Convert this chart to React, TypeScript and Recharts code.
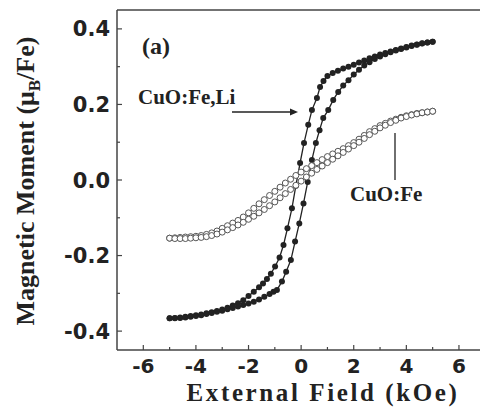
import { LineChart, Line, XAxis, YAxis, ReferenceLine, Customized } from 'recharts';

// CuO:Fe,Li  (filled dots) - descending branch, +5 -> -5 kOe
const liDescField = [
  5.0, 4.8, 4.6, 4.4, 4.2, 4.0, 3.8, 3.6, 3.4, 3.2, 3.0, 2.8, 2.6, 2.4, 2.2, 2.0, 1.8, 1.6, 1.4, 1.2,
  1.0, 0.85, 0.72, 0.6, 0.41, 0.27, 0.11, -0.04, -0.2, -0.35, -0.52, -0.67, -0.82, -0.99,
  -1.15, -1.3, -1.45, -1.6, -1.8, -2.0, -2.2, -2.4, -2.6, -2.8, -3.0, -3.2, -3.4, -3.6, -3.8, -4.0,
  -4.2, -4.4, -4.6, -4.8, -5.0,
];
const liDescMoment = [
  0.366, 0.364, 0.362, 0.359, 0.356, 0.352, 0.348, 0.344, 0.34, 0.336, 0.332, 0.327, 0.322, 0.316,
  0.311, 0.305, 0.3, 0.295, 0.289, 0.283, 0.275, 0.262, 0.246, 0.217, 0.185, 0.146, 0.098, 0.045,
  -0.015, -0.075, -0.128, -0.172, -0.205, -0.229, -0.248, -0.262, -0.274, -0.284, -0.296, -0.307,
  -0.318, -0.326, -0.332, -0.338, -0.343, -0.347, -0.35, -0.353, -0.356, -0.358, -0.36, -0.362,
  -0.364, -0.365, -0.366,
];

// CuO:Fe,Li - ascending branch, -5 -> +5 kOe
const liAscField = [
  -5.0, -4.8, -4.6, -4.4, -4.2, -4.0, -3.8, -3.6, -3.4, -3.2, -3.0, -2.8, -2.6, -2.4, -2.2, -2.0,
  -1.8, -1.6, -1.4, -1.2, -1.05, -0.92, -0.73, -0.57, -0.39, -0.23, -0.07, 0.09, 0.25, 0.41, 0.56,
  0.7, 0.84, 1.03, 1.22, 1.41, 1.6, 1.8, 2.0, 2.2, 2.4, 2.6, 2.8, 3.0, 3.2, 3.4, 3.6, 3.8, 4.0, 4.2,
  4.4, 4.6, 4.8, 5.0,
];
const liAscMoment = [
  -0.366, -0.366, -0.365, -0.364, -0.362, -0.36, -0.358, -0.355, -0.352, -0.349, -0.346, -0.342,
  -0.339, -0.335, -0.331, -0.327, -0.322, -0.316, -0.309, -0.302, -0.296, -0.291, -0.269, -0.243,
  -0.212, -0.163, -0.115, -0.062, -0.005, 0.053, 0.098, 0.132, 0.164, 0.185, 0.212, 0.233, 0.25,
  0.264, 0.279, 0.292, 0.303, 0.312, 0.32, 0.327, 0.333, 0.338, 0.343, 0.347, 0.351, 0.355, 0.358,
  0.361, 0.364, 0.366,
];

// CuO:Fe (open circles) - descending branch
const feDescField = [
  5.0, 4.8, 4.6, 4.4, 4.2, 4.0, 3.8, 3.6, 3.4, 3.2, 3.0, 2.8, 2.6, 2.4, 2.2, 2.0, 1.8, 1.6, 1.4, 1.2,
  1.0, 0.8, 0.6, 0.4, 0.2, 0.0, -0.2, -0.4, -0.6, -0.8, -1.0, -1.2, -1.4, -1.6, -1.8, -2.0, -2.2,
  -2.4, -2.6, -2.8, -3.0, -3.2, -3.4, -3.6, -3.8, -4.0, -4.2, -4.4, -4.6, -4.8, -5.0,
];
const feDescMoment = [
  0.182, 0.18, 0.178, 0.176, 0.173, 0.17, 0.166, 0.161, 0.156, 0.15, 0.144, 0.136, 0.128, 0.118,
  0.108, 0.099, 0.091, 0.083, 0.076, 0.069, 0.062, 0.054, 0.046, 0.038, 0.03, 0.021, 0.012, 0.002,
  -0.008, -0.019, -0.03, -0.041, -0.052, -0.063, -0.075, -0.087, -0.098, -0.107, -0.114, -0.121,
  -0.128, -0.135, -0.14, -0.144, -0.147, -0.149, -0.15, -0.151, -0.152, -0.153, -0.154,
];

// CuO:Fe - ascending branch
const feAscField = [
  -5.0, -4.8, -4.6, -4.4, -4.2, -4.0, -3.8, -3.6, -3.4, -3.2, -3.0, -2.8, -2.6, -2.4, -2.2, -2.0,
  -1.8, -1.6, -1.4, -1.2, -1.0, -0.8, -0.6, -0.4, -0.2, 0.0, 0.2, 0.4, 0.6, 0.8, 1.0, 1.2, 1.4, 1.6,
  1.8, 2.0, 2.2, 2.4, 2.6, 2.8, 3.0, 3.2, 3.4, 3.6, 3.8, 4.0, 4.2, 4.4, 4.6, 4.8, 5.0,
];
const feAscMoment = [
  -0.154, -0.155, -0.155, -0.155, -0.154, -0.153, -0.152, -0.15, -0.147, -0.143, -0.138, -0.132,
  -0.126, -0.119, -0.112, -0.104, -0.096, -0.087, -0.078, -0.068, -0.058, -0.047, -0.036, -0.025,
  -0.014, -0.003, 0.008, 0.018, 0.028, 0.037, 0.046, 0.055, 0.064, 0.073, 0.082, 0.091, 0.1, 0.11,
  0.12, 0.129, 0.138, 0.145, 0.152, 0.158, 0.164, 0.168, 0.172, 0.175, 0.178, 0.18, 0.182,
];

const xTicks = [-6, -5, -4, -3, -2, -1, 0, 1, 2, 3, 4, 5, 6];
const yTicks = [-0.4, -0.3, -0.2, -0.1, 0, 0.1, 0.2, 0.3, 0.4];

const zip = (field: number[], moment: number[]) => field.map((h, i) => ({ h, m: moment[i] }));

const liLoop = [...zip(liDescField, liDescMoment), ...zip(liAscField, liAscMoment)];
const feLoop = [...zip(feDescField, feDescMoment), ...zip(feAscField, feAscMoment)];

const TICK_FONT = '"DejaVu Sans", sans-serif';
const SERIF = '"Liberation Serif", "Times New Roman", serif';
const INK = '#222';
const FRAME = '#444';

const XTick = (props: any) => {
  const { x, y, payload } = props;
  const axisY = y - 8;
  const major = payload.value % 2 === 0;
  return (
    <g>
      <line x1={x} x2={x} y1={axisY} y2={axisY - (major ? 5 : 3)} stroke={FRAME} strokeWidth={1.2} />
      {major && (
        <text x={x} y={axisY + 23} textAnchor="middle" fontFamily={TICK_FONT} fontWeight="bold" fontSize={20} fill={INK}>
          {payload.value}
        </text>
      )}
    </g>
  );
};

const YTick = (props: any) => {
  const { x, y, payload } = props;
  const axisX = x + 7;
  const major = Math.abs(Math.round(payload.value * 10)) % 2 === 0;
  return (
    <g>
      <line x1={axisX} x2={axisX + (major ? 5 : 3)} y1={y} y2={y} stroke={FRAME} strokeWidth={1.2} />
      {major && (
        <text x={x} y={y + 7.5} textAnchor="end" fontFamily={TICK_FONT} fontWeight="bold" fontSize={21} fill={INK}>
          {payload.value.toFixed(1)}
        </text>
      )}
    </g>
  );
};

const Annotations = () => (
  <g fontFamily={SERIF} fontWeight="bold" fill={INK}>
    <text x={142} y={54} fontSize={24}>(a)</text>
    <text x={138} y={104} fontSize={21}>CuO:Fe,Li</text>
    <line x1={232} x2={292} y1={112} y2={112} stroke={INK} strokeWidth={1.3} />
    <polygon points="298,112 290,108.5 290,115.5" fill={INK} />
    <text x={350} y={201} fontSize={21}>CuO:Fe</text>
    <line x1={395} x2={395} y1={133} y2={180} stroke={INK} strokeWidth={1.3} />
    <text x={323} y={401} fontSize={25} textAnchor="middle" letterSpacing={2.6}>
      External Field (kOe)
    </text>
    <text x={34} y={181} fontSize={26} textAnchor="middle" transform="rotate(-90 34 181)">
      Magnetic Moment (μ
      <tspan fontSize={17} dy={6}>B</tspan>
      <tspan dy={-6}>/Fe)</tspan>
    </text>
  </g>
);

export default function App() {
  return (
    <div style={{ position: 'absolute', left: 0, top: 0, width: 480, height: 414, background: '#fff' }}>
      <LineChart width={480} height={414} margin={{ top: 10, right: 0, bottom: 0, left: 0 }}>
        <XAxis
          dataKey="h"
          type="number"
          domain={[-7, 6.8]}
          allowDataOverflow
          ticks={xTicks}
          interval={0}
          height={64}
          tickSize={0}
          tickMargin={8}
          tickLine={false}
          tick={<XTick />}
          axisLine={{ stroke: FRAME, strokeWidth: 1.5 }}
        />
        <YAxis
          dataKey="m"
          type="number"
          domain={[-0.45, 0.45]}
          allowDataOverflow
          ticks={yTicks}
          interval={0}
          width={117}
          tickSize={0}
          tickMargin={7}
          tickLine={false}
          tick={<YTick />}
          axisLine={{ stroke: FRAME, strokeWidth: 1.5 }}
        />
        <ReferenceLine y={0.45} stroke={FRAME} strokeWidth={1.5} />
        <Line
          data={liLoop}
          dataKey="m"
          name="CuO:Fe,Li"
          type="linear"
          stroke={INK}
          strokeWidth={1.3}
          dot={{ r: 3, fill: INK, stroke: 'none' }}
          isAnimationActive={false}
        />
        <Line
          data={feLoop}
          dataKey="m"
          name="CuO:Fe"
          type="linear"
          stroke="#666"
          strokeWidth={1}
          dot={{ r: 3, fill: '#fff', stroke: '#555', strokeWidth: 1 }}
          isAnimationActive={false}
        />
        <Customized component={Annotations} />
      </LineChart>
    </div>
  );
}
